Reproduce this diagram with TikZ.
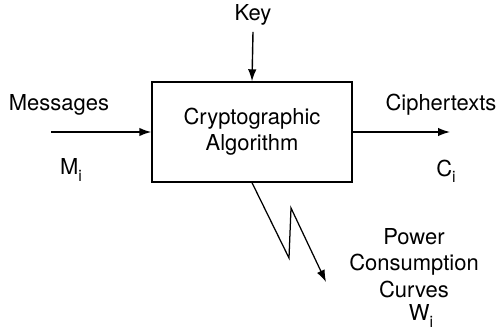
\documentclass[tikz,border=0pt]{standalone}
\usepackage{fontspec}
\setmainfont{TeX Gyre Heros}
\usetikzlibrary{arrows.meta}
\newcommand{\lowsub}[1]{\raisebox{-0.55ex}{\small #1}}
\begin{document}
\begin{tikzpicture}[>={Latex[length=2.4mm,width=1.7mm]}, line width=0.28mm, font=\fontsize{12.5}{15}\selectfont]
\useasboundingbox (0,0) rectangle (10.02,6.6);
% the algorithm box
\node[draw, minimum width=4cm, minimum height=2cm, align=center] (alg) at (5.04,3.96) {Cryptographic\\Algorithm};
% inputs and outputs
\node[] (key) at (5.06,6.3) {Key};
\node[] (msg) at (1.18,4.5) {Messages};
\node[] (mi) at (1.42,3.2) {M\lowsub{i}};
\node[] (ctext) at (8.82,4.5) {Ciphertexts};
\node[] (ci) at (8.92,3.18) {C\lowsub{i}};
\node[align=center] (power) at (8.28,1.34) {Power\\Consumption\\Curves};
\node[] (wi) at (8.42,0.28) {W\lowsub{i}};
\coordinate (in) at (1.02,3.96);
\coordinate (out) at (9.0,3.96);
\draw[->] (key.south) -- (alg.north);
\draw[->] (in) -- (alg.west);
\draw[->] (alg.east) -- (out);
% leakage zigzag
\coordinate (zig1) at (5.78,1.44);
\coordinate (zig2) at (5.82,2.44);
\coordinate (leak) at (6.52,0.96);
\draw[->, line width=0.25mm] (alg.south) -- (zig1) -- (zig2) -- (leak);
\end{tikzpicture}
\end{document}
